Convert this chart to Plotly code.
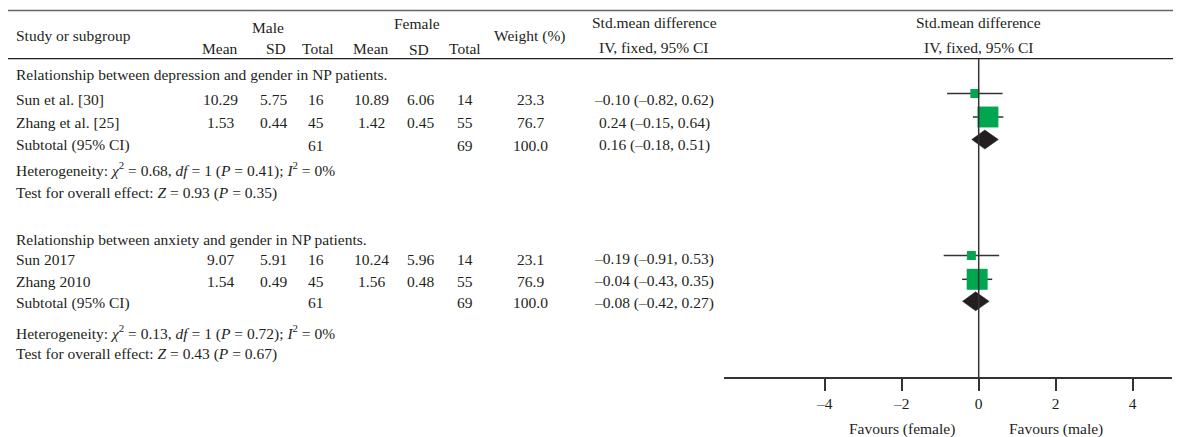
import plotly.graph_objects as go

# ---------------- data ----------------
group_titles = ["Relationship between depression and gender in NP patients.",
                "Relationship between anxiety and gender in NP patients."]

dep_studies = ["Sun et al. [30]", "Zhang et al. [25]"]
dep_male_mean = [10.29, 1.53]
dep_male_sd = [5.75, 0.44]
dep_male_n = [16, 45]
dep_female_mean = [10.89, 1.42]
dep_female_sd = [6.06, 0.45]
dep_female_n = [14, 55]
dep_weight = [23.3, 76.7]
dep_smd = [-0.10, 0.24]
dep_lo = [-0.82, -0.15]
dep_hi = [0.62, 0.64]
dep_sub = {"male_n": 61, "female_n": 69, "weight": 100.0, "smd": 0.16, "lo": -0.18, "hi": 0.51}
dep_het = {"chi2": 0.68, "df": 1, "p": 0.41, "i2": 0}
dep_overall = {"z": 0.93, "p": 0.35}

anx_studies = ["Sun 2017", "Zhang 2010"]
anx_male_mean = [9.07, 1.54]
anx_male_sd = [5.91, 0.49]
anx_male_n = [16, 45]
anx_female_mean = [10.24, 1.56]
anx_female_sd = [5.96, 0.48]
anx_female_n = [14, 55]
anx_weight = [23.1, 76.9]
anx_smd = [-0.19, -0.04]
anx_lo = [-0.91, -0.43]
anx_hi = [0.53, 0.35]
anx_sub = {"male_n": 61, "female_n": 69, "weight": 100.0, "smd": -0.08, "lo": -0.42, "hi": 0.27}
anx_het = {"chi2": 0.13, "df": 1, "p": 0.72, "i2": 0}
anx_overall = {"z": 0.43, "p": 0.67}

tick_vals = [-4, -2, 0, 2, 4]
favour_labels = ["Favours (female)", "Favours (male)"]
favour_pos = [-2, 2]

# ---------------- layout constants ----------------
PAGE_W, PAGE_H = 1181, 437
OFF = 8                       # browser body margin
W, H = PAGE_W - OFF, PAGE_H - OFF
FONT = "Liberation Serif"
FS = 15.5
TXT = "#231F20"
GREEN = "#00A650"
DARK = "#231F20"
LINE = "#333333"
TDY = 0  # text vertical offset

COL_LEFT = 14
COL = {"m_mean": 220, "m_sd": 273, "m_n": 316, "f_mean": 371, "f_sd": 420,
       "f_n": 465, "w": 530, "smd": 654}
AX_LEFT, AX_RIGHT, AX_Y = 724, 1172, 378
ZERO_PX, PX_PER_UNIT = 978.7, 38.5

groups = [
    dict(title=group_titles[0], studies=dep_studies, mm=dep_male_mean, msd=dep_male_sd, mn=dep_male_n,
         fm=dep_female_mean, fsd=dep_female_sd, fn=dep_female_n, w=dep_weight, smd=dep_smd,
         lo=dep_lo, hi=dep_hi, sub=dep_sub, het=dep_het, ov=dep_overall,
         y_title=74.5, y_rows=[99.8, 122.5], y_sub=145, y_het=169, y_ov=192.5,
         y_mark=[93.5, 117], y_dia=139.5),
    dict(title=group_titles[1], studies=anx_studies, mm=anx_male_mean, msd=anx_male_sd, mn=anx_male_n,
         fm=anx_female_mean, fsd=anx_female_sd, fn=anx_female_n, w=anx_weight, smd=anx_smd,
         lo=anx_lo, hi=anx_hi, sub=anx_sub, het=anx_het, ov=anx_overall,
         y_title=239, y_rows=[259.3, 281.3], y_sub=302.5, y_het=332, y_ov=354,
         y_mark=[255.5, 279.3], y_dia=301.3),
]


def fmt(v, d=2):
    s = f"{v:.{d}f}"
    return s.replace("-", "\u2013")


def ci_text(e, lo, hi):
    return f"{fmt(e)} ({fmt(lo)}, {fmt(hi)})"


annotations = []


def add_text(x, y, text, anchor="center", size=FS):
    annotations.append(dict(x=x, y=y + TDY, xref="x2", yref="y", text=text, showarrow=False,
                            xanchor=anchor, yanchor="middle",
                            font=dict(family=FONT, size=size, color=TXT)))


# header
add_text(COL_LEFT, 35, "Study or subgroup", "left")
add_text(267.5, 27, "Male")
add_text(416.5, 23, "Female")
add_text(COL["m_mean"], 48, "Mean")
add_text(276, 48, "SD")
add_text(318, 48, "Total")
add_text(COL["f_mean"], 48, "Mean")
add_text(419, 49.5, "SD")
add_text(COL["f_n"], 48, "Total")
add_text(COL["w"], 36, "Weight (%)")
add_text(COL["smd"], 22.5, "Std.mean difference")
add_text(COL["smd"], 47.5, "IV, fixed, 95% CI")
add_text(978.5, 22.5, "Std.mean difference")
add_text(978.5, 47.5, "IV, fixed, 95% CI")

fig = go.Figure()

for g in groups:
    add_text(COL_LEFT, g["y_title"], g["title"], "left")
    for i, name in enumerate(g["studies"]):
        y = g["y_rows"][i]
        add_text(COL_LEFT, y, name, "left")
        add_text(COL["m_mean"], y, fmt(g["mm"][i]))
        add_text(COL["m_sd"], y, fmt(g["msd"][i]))
        add_text(COL["m_n"], y, str(g["mn"][i]))
        add_text(COL["f_mean"], y, fmt(g["fm"][i]))
        add_text(COL["f_sd"], y, fmt(g["fsd"][i]))
        add_text(COL["f_n"], y, str(g["fn"][i]))
        add_text(COL["w"], y, fmt(g["w"][i], 1))
        add_text(COL["smd"], y, ci_text(g["smd"][i], g["lo"][i], g["hi"][i]))
    s = g["sub"]
    add_text(COL_LEFT, g["y_sub"], "Subtotal (95% CI)", "left")
    add_text(COL["m_n"], g["y_sub"], str(s["male_n"]))
    add_text(COL["f_n"], g["y_sub"], str(s["female_n"]))
    add_text(COL["w"], g["y_sub"], fmt(s["weight"], 1))
    add_text(COL["smd"], g["y_sub"], ci_text(s["smd"], s["lo"], s["hi"]))
    h = g["het"]
    add_text(COL_LEFT, g["y_het"],
             f"Heterogeneity: <i>\u03c7</i><sup>2</sup> = {h['chi2']:.2f}, <i>df</i> = {h['df']} "
             f"(<i>P</i> = {h['p']:.2f}); <i>I</i><sup>2</sup> = {h['i2']}%", "left")
    o = g["ov"]
    add_text(COL_LEFT, g["y_ov"],
             f"Test for overall effect: <i>Z</i> = {o['z']:.2f} (<i>P</i> = {o['p']:.2f})", "left")

    # whiskers
    wx, wy = [], []
    for i in range(len(g["studies"])):
        wx += [g["lo"][i], g["hi"][i], None]
        wy += [g["y_mark"][i], g["y_mark"][i], None]
    fig.add_trace(go.Scatter(x=wx, y=wy, mode="lines", line=dict(color=LINE, width=1.5),
                             xaxis="x", yaxis="y", hoverinfo="skip", showlegend=False))
    # squares (side scaled by weight)
    sizes = [3.8 + 0.223 * w for w in g["w"]]
    fig.add_trace(go.Scatter(x=g["smd"], y=g["y_mark"], mode="markers",
                             marker=dict(symbol="square", size=sizes, color=GREEN, opacity=1,
                                         line=dict(width=0)),
                             xaxis="x", yaxis="y", showlegend=False))
    # diamond
    yd, hd = g["y_dia"], 9.5
    fig.add_trace(go.Scatter(x=[s["lo"], s["smd"], s["hi"], s["smd"], s["lo"]],
                             y=[yd, yd - hd, yd, yd + hd, yd],
                             mode="lines", fill="toself", fillcolor=DARK, line=dict(color=DARK, width=0.5),
                             xaxis="x", yaxis="y", showlegend=False))

# favour labels
for lab, xp in zip(favour_labels, favour_pos):
    annotations.append(dict(x=xp, y=429 + TDY, xref="x", yref="y", text=lab, showarrow=False,
                            xanchor="center", yanchor="middle",
                            font=dict(family=FONT, size=FS, color=TXT)))

shapes = [
    dict(type="line", xref="x2", yref="y", x0=OFF, x1=PAGE_W, y0=10.5, y1=10.5,
         line=dict(color="#666666", width=1.5)),
    dict(type="line", xref="x2", yref="y", x0=OFF, x1=PAGE_W, y0=58.7, y1=58.7,
         line=dict(color="#231F20", width=1.3)),
    dict(type="line", xref="x", yref="y", x0=0, x1=0, y0=58.7, y1=AX_Y,
         line=dict(color=LINE, width=1.5)),
]

x_lo = (AX_LEFT - ZERO_PX) / PX_PER_UNIT
x_hi = (AX_RIGHT - ZERO_PX) / PX_PER_UNIT

fig.update_layout(
    width=W, height=H, margin=dict(l=0, r=0, t=0, b=0, autoexpand=False),
    paper_bgcolor="white", plot_bgcolor="rgba(0,0,0,0)",
    showlegend=False,
    xaxis=dict(domain=[(AX_LEFT - OFF) / W, (AX_RIGHT - OFF) / W], range=[x_lo, x_hi], anchor="free",
               position=1 - (AX_Y - OFF) / H, showline=True, linecolor=LINE, linewidth=1.5,
               ticks="outside", ticklen=12, tickwidth=1.5, tickcolor=LINE,
               tickvals=tick_vals, ticktext=[fmt(v, 0) for v in tick_vals],
               tickfont=dict(family=FONT, size=FS, color=TXT),
               showgrid=False, zeroline=False, fixedrange=True),
    xaxis2=dict(domain=[0, 1], range=[OFF, PAGE_W], visible=False, anchor="y", fixedrange=True),
    yaxis=dict(domain=[0, 1], range=[PAGE_H, OFF], visible=False, fixedrange=True),
    annotations=annotations,
    shapes=shapes,
)

fig.write_html("out.html")
